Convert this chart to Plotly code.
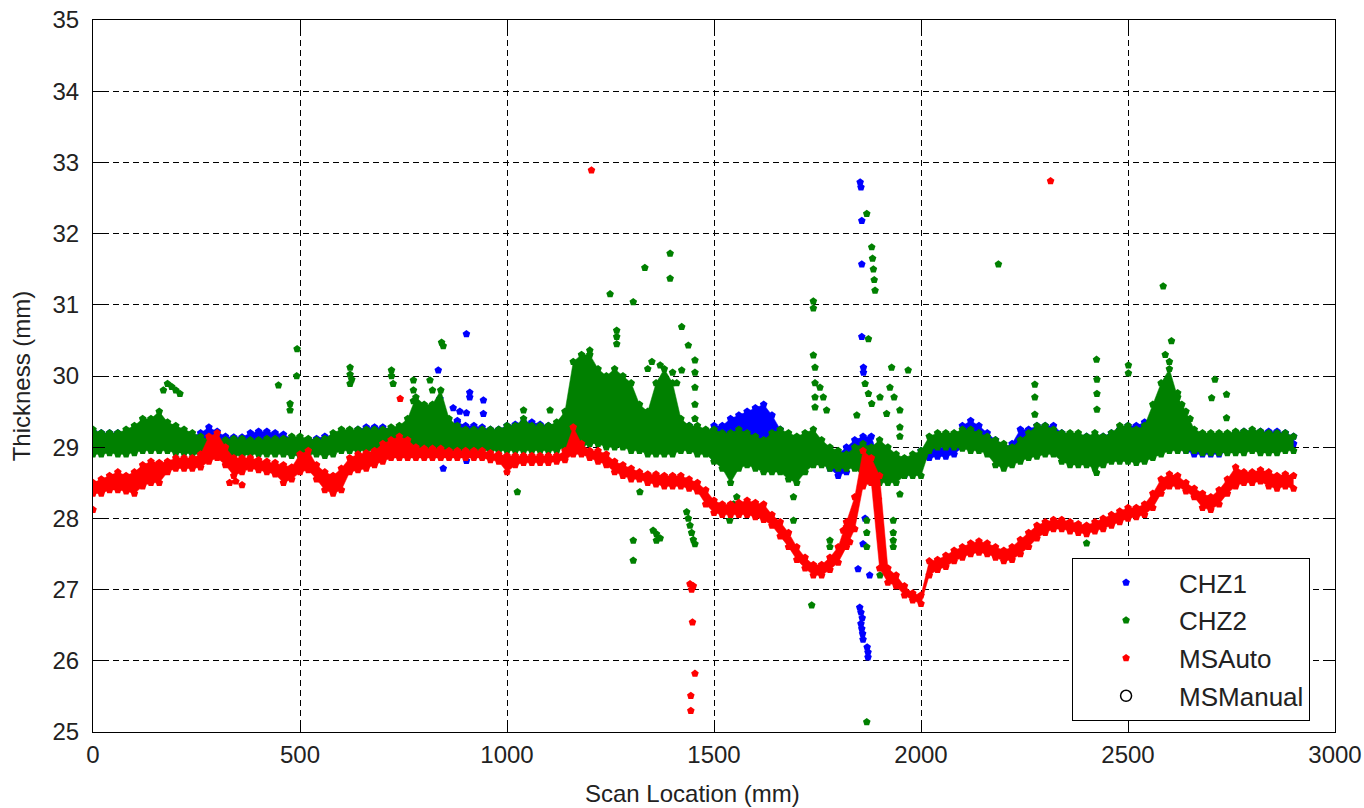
import plotly.graph_objects as go

# ---------------- data ----------------
scan_x = [0, 20, 40, 60, 80, 100, 120, 140, 160, 180,
          200, 220, 240, 260, 280, 300, 320, 340, 360, 380,
          400, 420, 440, 460, 480, 500, 520, 540, 560, 580,
          600, 620, 640, 660, 680, 700, 720, 740, 760, 780,
          800, 820, 840, 860, 880, 900, 920, 940, 960, 980,
          1000, 1020, 1040, 1060, 1080, 1100, 1120, 1140, 1160, 1180,
          1200, 1220, 1240, 1260, 1280, 1300, 1320, 1340, 1360, 1380,
          1400, 1420, 1440, 1460, 1480, 1500, 1520, 1540, 1560, 1580,
          1600, 1620, 1640, 1660, 1680, 1700, 1720, 1740, 1760, 1780,
          1800, 1820, 1840, 1860, 1880, 1900, 1920, 1940, 1960, 1980,
          2000, 2020, 2040, 2060, 2080, 2100, 2120, 2140, 2160, 2180,
          2200, 2220, 2240, 2260, 2280, 2300, 2320, 2340, 2360, 2380,
          2400, 2420, 2440, 2460, 2480, 2500, 2520, 2540, 2560, 2580,
          2600, 2620, 2640, 2660, 2680, 2700, 2720, 2740, 2760, 2780,
          2800, 2820, 2840, 2860, 2880, 2900]

# CHZ1 band (upper / lower edge of the dense point cloud)
chz1_hi = [29.22, 29.20, 29.20, 29.20, 29.18, 29.20, 29.28, 29.28, 29.26, 29.20,
           29.18, 29.15, 29.15, 29.20, 29.28, 29.22, 29.15, 29.14, 29.14, 29.20,
           29.22, 29.22, 29.20, 29.18, 29.12, 29.10, 29.10, 29.12, 29.15, 29.15,
           29.12, 29.20, 29.25, 29.28, 29.28, 29.28, 29.25, 29.22, 29.20, 29.20,
           29.22, 29.25, 29.28, 29.30, 29.35, 29.30, 29.30, 29.28, 29.25, 29.25,
           29.30, 29.32, 29.35, 29.35, 29.32, 29.30, 29.30, 29.32, 29.45, 29.42,
           29.35, 29.30, 29.35, 29.35, 29.30, 29.25, 29.25, 29.30, 29.30, 29.30,
           29.30, 29.30, 29.30, 29.25, 29.20, 29.30, 29.30, 29.40, 29.45, 29.50,
           29.55, 29.60, 29.45, 29.25, 29.15, 29.12, 29.10, 29.10, 29.00, 28.95,
           28.90, 29.00, 29.10, 29.15, 29.15, 28.80, 28.80, 28.80, 28.80, 28.85,
           28.95, 29.00, 29.00, 29.00, 29.05, 29.30, 29.37, 29.30, 29.20, 29.10,
           29.00, 29.05, 29.25, 29.25, 29.30, 29.30, 29.30, 29.20, 29.15, 29.15,
           29.15, 29.15, 29.15, 29.20, 29.25, 29.30, 29.30, 29.35, 29.35, 29.40,
           29.48, 29.45, 29.30, 29.10, 29.05, 29.05, 29.10, 29.15, 29.20, 29.22,
           29.22, 29.22, 29.22, 29.22, 29.20, 29.15]
chz1_lo = [29.00, 29.00, 29.02, 29.02, 29.00, 29.00, 29.02, 29.05, 29.05, 29.02,
           29.00, 29.00, 28.98, 29.00, 29.02, 29.00, 28.98, 28.98, 28.98, 29.00,
           29.02, 29.02, 29.00, 29.00, 28.98, 28.98, 28.98, 28.98, 29.00, 29.00,
           28.98, 29.00, 29.05, 29.05, 29.05, 29.05, 29.05, 29.05, 29.00, 28.95,
           28.95, 28.95, 28.95, 28.95, 28.95, 28.95, 28.98, 29.00, 29.00, 29.02,
           29.05, 29.05, 29.08, 29.08, 29.08, 29.05, 29.05, 29.05, 29.10, 29.10,
           29.08, 29.08, 29.10, 29.10, 29.08, 29.05, 29.05, 29.05, 29.05, 29.08,
           29.05, 29.05, 29.05, 29.00, 28.95, 28.85, 28.80, 29.00, 29.05, 29.05,
           29.05, 29.05, 29.00, 29.00, 29.00, 28.98, 28.95, 28.90, 28.80, 28.70,
           28.60, 28.65, 28.80, 28.85, 28.75, 28.60, 28.60, 28.60, 28.60, 28.65,
           28.80, 28.85, 28.87, 28.87, 28.90, 29.00, 29.05, 29.05, 29.00, 28.85,
           28.80, 28.85, 29.00, 29.00, 29.00, 29.05, 29.05, 28.95, 28.90, 28.90,
           28.90, 28.90, 28.90, 28.95, 29.00, 29.00, 29.00, 29.00, 29.00, 29.00,
           29.00, 29.00, 28.95, 28.90, 28.90, 28.90, 28.90, 29.00, 29.05, 29.05,
           29.05, 29.05, 29.05, 29.05, 29.05, 29.05]
chz1_out_x = [834, 902, 838, 838, 870, 886, 902, 910, 910, 943, 943, 880, 846, 902,
              1853, 1855, 1857, 1857, 1857, 1861, 1861, 1848, 1876, 1860, 1865,
              1852, 1855, 1858, 1855, 1857, 1859, 1860, 1870, 1872, 1872]
chz1_out_y = [30.08, 30.59, 29.68, 29.55, 29.55, 29.50, 29.48, 29.77, 29.70, 29.66, 29.47, 29.37, 28.70, 28.81,
              32.72, 32.65, 32.18, 31.57, 30.55, 30.12, 30.05, 27.29, 27.20, 27.64, 28.00,
              26.75, 26.68, 26.60, 26.52, 26.45, 26.38, 26.30, 26.19, 26.12, 26.05]

# CHZ2 band
chz2_hi = [29.25, 29.20, 29.20, 29.20, 29.25, 29.30, 29.40, 29.40, 29.50, 29.35,
           29.30, 29.25, 29.20, 29.15, 29.10, 29.10, 29.10, 29.12, 29.12, 29.10,
           29.10, 29.12, 29.12, 29.12, 29.15, 29.15, 29.12, 29.10, 29.12, 29.20,
           29.25, 29.25, 29.25, 29.25, 29.25, 29.25, 29.28, 29.30, 29.40, 29.70,
           29.60, 29.60, 29.80, 29.40, 29.30, 29.25, 29.25, 29.25, 29.25, 29.25,
           29.30, 29.30, 29.40, 29.30, 29.30, 29.30, 29.35, 29.50, 30.20, 30.30,
           30.30, 30.10, 30.00, 30.10, 30.00, 29.90, 29.60, 29.50, 29.90, 30.10,
           29.90, 29.40, 29.30, 29.30, 29.25, 29.25, 29.20, 29.20, 29.25, 29.20,
           29.15, 29.10, 29.20, 29.25, 29.20, 29.15, 29.20, 29.25, 29.10, 29.00,
           28.95, 28.90, 29.00, 29.05, 29.00, 29.10, 29.00, 28.90, 28.85, 28.90,
           28.95, 29.15, 29.20, 29.20, 29.20, 29.25, 29.25, 29.20, 29.15, 29.10,
           29.05, 29.00, 29.10, 29.20, 29.30, 29.30, 29.25, 29.20, 29.20, 29.20,
           29.15, 29.20, 29.15, 29.20, 29.30, 29.30, 29.25, 29.30, 29.60, 29.90,
           30.10, 29.70, 29.50, 29.25, 29.20, 29.20, 29.20, 29.20, 29.22, 29.22,
           29.25, 29.22, 29.20, 29.20, 29.20, 29.15]
chz2_lo = [28.90, 28.90, 28.92, 28.90, 28.90, 28.92, 28.95, 28.95, 28.95, 28.95,
           28.92, 28.92, 28.90, 28.90, 28.90, 28.92, 28.90, 28.88, 28.88, 28.90,
           28.90, 28.90, 28.90, 28.90, 28.88, 28.88, 28.90, 28.90, 28.88, 28.90,
           28.95, 28.95, 28.95, 28.95, 28.95, 28.95, 28.95, 28.95, 28.95, 28.90,
           28.90, 28.90, 28.95, 28.95, 28.95, 28.95, 28.95, 28.95, 28.95, 28.95,
           28.95, 28.95, 28.95, 28.95, 28.95, 28.95, 28.95, 29.00, 29.00, 29.00,
           29.05, 29.05, 29.00, 29.00, 29.00, 28.95, 28.95, 28.90, 28.90, 28.90,
           28.90, 28.95, 28.95, 28.90, 28.90, 28.80, 28.70, 28.50, 28.70, 28.75,
           28.70, 28.65, 28.65, 28.65, 28.55, 28.50, 28.65, 28.75, 28.75, 28.70,
           28.70, 28.70, 28.70, 28.60, 28.50, 28.50, 28.50, 28.50, 28.60, 28.60,
           28.60, 28.95, 29.00, 29.00, 29.00, 28.98, 28.95, 28.95, 28.90, 28.75,
           28.70, 28.75, 28.80, 28.85, 28.87, 28.90, 28.90, 28.80, 28.75, 28.75,
           28.75, 28.70, 28.75, 28.80, 28.80, 28.80, 28.78, 28.80, 28.85, 28.90,
           28.95, 28.95, 28.95, 28.95, 28.92, 28.92, 28.92, 28.92, 28.92, 28.92,
           28.95, 28.92, 28.92, 28.92, 28.95, 28.95]
chz2_out_x = [170, 180, 190, 200, 210, 448, 476, 476, 492, 493, 621, 621, 625, 621,
              721, 721, 725, 774, 774, 774, 814, 820, 830, 838, 842, 846,
              1040, 1104, 1025, 1200, 1249, 1265, 1265, 1265, 1305, 1333, 1394, 1394,
              1422, 1438, 1454, 1454, 1422, 1454, 1454, 1454,
              1340, 1350, 1370, 1400, 1410,
              1305, 1305, 1321, 1353, 1361, 1361, 1370, 1434, 1438, 1442, 1446, 1450, 1454,
              1538, 1547, 1555, 1692, 1692, 1736, 1780, 1780,
              1740, 1740, 1740, 1744, 1744, 1744, 1744, 1756, 1764, 1772,
              1869, 1881, 1883, 1885, 1887, 1889, 1873, 1865, 1873, 1881, 1845,
              1869, 1869, 1869, 1869, 1901, 1933, 1933, 1933, 1933,
              1901, 1917, 1925, 1935, 1949, 1929, 1969, 1949, 1949, 1949,
              2187, 2275, 2275, 2275, 2400, 2424, 2425, 2425, 2425, 2424, 2501, 2501,
              2585, 2605, 2590, 2600, 2620, 2630, 2650, 2710, 2702, 2738, 2738]
chz2_out_y = [29.80, 29.89, 29.85, 29.80, 29.75, 29.87, 29.61, 29.52, 30.00, 30.38, 30.12, 30.02, 29.95, 29.89,
              30.08, 30.00, 29.89, 29.94, 29.80, 29.65, 29.94, 29.80, 29.60, 29.47, 30.47, 30.42,
              29.52, 29.52, 28.37, 30.36, 31.15, 30.64, 30.55, 30.45, 31.04, 31.52, 31.72, 31.37,
              30.69, 30.43, 30.22, 30.05, 30.08, 29.84, 29.60, 29.40,
              30.10, 30.20, 30.15, 30.05, 29.90,
              27.69, 27.41, 28.37, 27.83, 27.78, 27.69, 27.72, 28.09, 28.00, 27.90, 27.80, 27.70, 27.64,
              27.97, 28.20, 28.30, 27.97, 28.30, 26.78, 27.69, 27.60,
              31.05, 30.95, 30.29, 30.12, 29.90, 29.70, 29.56, 29.84, 29.70, 29.52,
              32.28, 31.81, 31.65, 31.50, 31.35, 31.20, 30.52, 29.89, 29.75, 29.61, 29.45,
              27.97, 27.80, 27.60, 25.14, 27.20, 27.97, 27.80, 27.69, 27.60,
              29.70, 29.47, 29.84, 29.70, 29.52, 30.12, 30.08, 29.28, 29.15, 28.34,
              31.57, 29.88, 29.70, 29.46, 27.65, 30.23, 29.95, 29.75, 29.53, 28.64, 30.15, 30.04,
              31.26, 30.49, 30.30, 30.20, 29.76, 29.60, 29.40, 29.95, 29.69, 29.74, 29.41]

# MSAuto band
msauto_hi = [28.50, 28.55, 28.60, 28.65, 28.60, 28.65, 28.75, 28.80, 28.78, 28.80,
             28.85, 28.85, 28.85, 28.90, 29.15, 29.20, 29.00, 28.85, 28.85, 28.85,
             28.82, 28.80, 28.78, 28.75, 28.72, 28.90, 28.95, 28.75, 28.65, 28.60,
             28.70, 28.85, 28.90, 28.92, 28.95, 29.05, 29.10, 29.15, 29.10, 29.00,
             28.98, 28.98, 28.98, 28.95, 28.95, 28.95, 28.95, 28.95, 28.92, 28.90,
             28.88, 28.88, 28.88, 28.88, 28.88, 28.88, 28.88, 28.95, 29.28, 29.05,
             28.95, 28.95, 28.90, 28.80, 28.75, 28.70, 28.65, 28.62, 28.62, 28.60,
             28.60, 28.60, 28.55, 28.50, 28.40, 28.25, 28.20, 28.20, 28.22, 28.25,
             28.22, 28.20, 28.05, 27.95, 27.80, 27.60, 27.45, 27.35, 27.35, 27.45,
             27.60, 27.95, 28.30, 28.95, 28.85, 28.60, 27.30, 27.20, 27.05, 26.95,
             26.92, 27.40, 27.42, 27.48, 27.55, 27.60, 27.65, 27.68, 27.65, 27.60,
             27.55, 27.60, 27.70, 27.80, 27.90, 27.95, 27.98, 27.98, 27.95, 27.92,
             27.90, 27.95, 28.00, 28.05, 28.10, 28.15, 28.15, 28.20, 28.35, 28.55,
             28.62, 28.60, 28.50, 28.42, 28.35, 28.30, 28.40, 28.55, 28.72, 28.65,
             28.65, 28.68, 28.65, 28.60, 28.62, 28.60]
msauto_lo = [28.35, 28.35, 28.40, 28.40, 28.38, 28.35, 28.45, 28.50, 28.50, 28.65,
             28.70, 28.70, 28.70, 28.72, 28.80, 28.85, 28.75, 28.60, 28.65, 28.70,
             28.68, 28.65, 28.62, 28.50, 28.55, 28.65, 28.68, 28.55, 28.40, 28.35,
             28.40, 28.65, 28.68, 28.70, 28.75, 28.80, 28.85, 28.85, 28.85, 28.85,
             28.85, 28.85, 28.85, 28.85, 28.85, 28.85, 28.85, 28.85, 28.82, 28.80,
             28.65, 28.75, 28.78, 28.78, 28.78, 28.78, 28.80, 28.82, 28.90, 28.90,
             28.85, 28.80, 28.75, 28.65, 28.60, 28.55, 28.55, 28.50, 28.48, 28.45,
             28.45, 28.45, 28.42, 28.38, 28.20, 28.08, 28.05, 28.05, 28.05, 28.05,
             28.02, 27.98, 27.90, 27.75, 27.60, 27.42, 27.30, 27.20, 27.20, 27.28,
             27.38, 27.60, 27.85, 28.45, 28.50, 27.30, 27.10, 27.05, 26.92, 26.85,
             26.80, 27.20, 27.28, 27.32, 27.40, 27.45, 27.50, 27.52, 27.50, 27.45,
             27.40, 27.42, 27.50, 27.60, 27.72, 27.80, 27.85, 27.85, 27.82, 27.80,
             27.78, 27.82, 27.85, 27.90, 27.95, 28.00, 28.02, 28.05, 28.15, 28.35,
             28.45, 28.45, 28.38, 28.30, 28.15, 28.12, 28.20, 28.35, 28.45, 28.50,
             28.50, 28.52, 28.45, 28.42, 28.45, 28.42]
msauto_out_x = [0, 330, 345, 360, 742, 1204, 2313, 1442, 1446, 1450, 1448, 1454, 1444, 1444,
                1812, 1820, 1828, 1897]
msauto_out_y = [28.12, 28.50, 28.52, 28.47, 29.68, 32.89, 32.74, 27.08, 27.00, 27.05, 26.54, 25.82, 25.51, 25.30,
                27.83, 27.88, 27.67, 28.27]

# MSManual: no points visible in the reference (legend entry only)
msmanual_x = [None]
msmanual_y = [None]

series_names = ["CHZ1", "CHZ2", "MSAuto", "MSManual"]
series_colors = ["#0000ff", "#008000", "#ff0000", "#000000"]

x_ticks = [0, 500, 1000, 1500, 2000, 2500, 3000]
y_ticks = [25, 26, 27, 28, 29, 30, 31, 32, 33, 34, 35]

# ---------------- figure ----------------
FONT = "Liberation Sans, Arial, sans-serif"
TXT = "#222222"
MSIZE = 8
fig = go.Figure()

bands = [
    (series_names[0], series_colors[0], chz1_lo, chz1_hi, chz1_out_x, chz1_out_y),
    (series_names[1], series_colors[1], chz2_lo, chz2_hi, chz2_out_x, chz2_out_y),
    (series_names[2], series_colors[2], msauto_lo, msauto_hi, msauto_out_x, msauto_out_y),
]
for name, col, lo, hi, ox, oy in bands:
    mk = dict(symbol="pentagon", size=MSIZE, color=col, line=dict(width=0))
    fig.add_trace(go.Scatter(x=scan_x, y=lo, mode="lines+markers", marker=mk,
                             line=dict(width=0.5, color=col),
                             legendgroup=name, showlegend=False, hoverinfo="skip"))
    fig.add_trace(go.Scatter(x=scan_x, y=hi, mode="lines+markers", marker=mk,
                             line=dict(width=0.5, color=col),
                             fill="tonexty", fillcolor=col,
                             legendgroup=name, showlegend=False, hoverinfo="skip"))
    fig.add_trace(go.Scatter(x=ox, y=oy, mode="markers", marker=mk,
                             name=name, legendgroup=name, showlegend=True))

fig.add_trace(go.Scatter(x=msmanual_x, y=msmanual_y, mode="markers", name=series_names[3],
                         legendgroup=series_names[3], showlegend=True,
                         marker=dict(symbol="circle-open", size=11, color=series_colors[3],
                                     line=dict(width=1.5, color=series_colors[3]))))

axis_common = dict(
    showline=True, linecolor="#000000", linewidth=1, mirror="ticks",
    ticks="inside", ticklen=12, tickwidth=1, tickcolor="#000000",
    showgrid=True, gridcolor="#000000", gridwidth=1, griddash="6px,4px",
    zeroline=False,
    tickfont=dict(family=FONT, size=24, color=TXT),
)

fig.update_xaxes(range=[0, 3000], tickvals=x_ticks, ticklabelstandoff=1, **axis_common)
fig.update_yaxes(range=[25, 35], tickvals=y_ticks, ticklabelstandoff=8, **axis_common,
                 title=dict(text="Thickness (mm)", standoff=15,
                            font=dict(family=FONT, size=24, color=TXT)))

fig.add_annotation(text="Scan Location (mm)", xref="paper", yref="paper",
                   x=0.4823, y=-0.0857, xanchor="center", yanchor="middle",
                   showarrow=False, font=dict(family=FONT, size=24, color=TXT))

fig.update_layout(
    width=1364, height=808,
    margin=dict(l=93, r=29, t=20, b=76, autoexpand=False),
    paper_bgcolor="#ffffff", plot_bgcolor="#ffffff",
    font=dict(family=FONT, size=24, color=TXT),
    showlegend=True,
    legend=dict(x=0.7883, y=0.2444, xanchor="left", yanchor="top",
                bgcolor="#ffffff", bordercolor="#000000", borderwidth=1,
                font=dict(family=FONT, size=26, color=TXT),
                tracegroupgap=1, itemwidth=96),
)

fig.write_html("out.html", config={"displayModeBar": False},
               post_script="document.body.style.margin='0';document.body.style.overflow='hidden';")
